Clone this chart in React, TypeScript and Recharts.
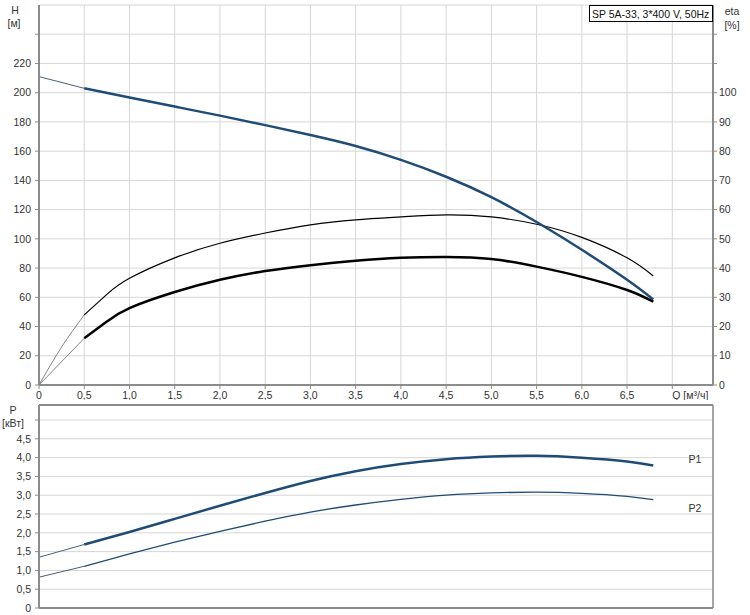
import React from 'react';
import { LineChart, Line, XAxis, YAxis, CartesianGrid, ReferenceLine } from 'recharts';

// Flow rate Q [m³/h]
const qMain = [0.5, 1.0, 1.5, 2.0, 2.5, 3.0, 3.5, 4.0, 4.5, 5.0, 5.5, 6.0, 6.5, 6.79];
const qEta = [0.5, 0.75, 1.0, 1.5, 2.0, 2.5, 3.0, 3.5, 4.0, 4.5, 5.0, 5.5, 6.0, 6.5, 6.79];
// Head H [m]
const headMain = [203, 196.7, 190.5, 184.3, 177.8, 171, 163.5, 154, 142.5, 128.5, 111.5, 92.5, 72, 58.5];
// Efficiencies [%]
const etaPump = [24, 31, 36.5, 43.5, 48.5, 52, 54.8, 56.5, 57.5, 58.2, 57.5, 55, 50.5, 43.5, 37.3];
const etaTotal = [16, 21.7, 26.3, 31.8, 36, 39, 41, 42.5, 43.5, 43.8, 43.1, 40.5, 37, 32.5, 28.5];
// Power [kW]
const p1Main = [1.69, 2.02, 2.37, 2.72, 3.06, 3.38, 3.64, 3.83, 3.96, 4.03, 4.05, 4.0, 3.9, 3.79];
const p2Main = [1.11, 1.44, 1.75, 2.04, 2.31, 2.55, 2.74, 2.89, 3.0, 3.06, 3.08, 3.05, 2.97, 2.88];

// Extensions toward Q = 0
const qStart = [0, 0.5];
const qStart3 = [0, 0.25, 0.5];
const headStart = [211, 203];
const etaPumpStart = [0, 13, 24];
const etaTotalStart = [0, 16];
const p1Start = [1.35, 1.69];
const p2Start = [0.82, 1.11];

const xTicks = [0, 0.5, 1, 1.5, 2, 2.5, 3, 3.5, 4, 4.5, 5, 5.5, 6, 6.5, 7];
const hTicks = [0, 20, 40, 60, 80, 100, 120, 140, 160, 180, 200, 220, 240];
const etaTicks = [0, 10, 20, 30, 40, 50, 60, 70, 80, 90, 100, 110, 120];
const pTicks = [0, 0.5, 1, 1.5, 2, 2.5, 3, 3.5, 4, 4.5, 5];

const pts = (qs: number[], vs: number[]) => qs.map((q, i) => ({ q, v: vs[i] }));

const FONT = '"Liberation Sans", Arial, sans-serif';
const TXT = '#333333';
const AXIS = '#8c8c8c';
const GRID = '#d6d6d6';
const BLUE = '#1f4c76';
const FS = 10.5;

const comma = (v: number) => (v === 0 ? '0' : v.toFixed(1).replace('.', ','));

const XTick = (props: any) => {
  const { x, y, payload } = props;
  const v = payload.value;
  const last = v === 7;
  return (
    <text
      x={x}
      y={y}
      dy={8}
      textAnchor={last ? 'start' : 'middle'}
      fill={TXT}
      fontSize={FS}
      fontFamily={FONT}
    >
      {last ? 'Q [м³/ч]' : comma(v)}
    </text>
  );
};

const tickStyle = { fill: TXT, fontSize: FS, fontFamily: FONT };

export default function App() {
  return (
    <div style={{ position: 'absolute', left: 0, top: 0, width: 750, height: 615, background: '#fff' }}>
      <LineChart width={750} height={400} margin={{ top: 5, right: 0, bottom: 0, left: 0 }}>
        <CartesianGrid stroke={GRID} yAxisId="h" />
        <XAxis
          type="number"
          dataKey="q"
          domain={[0, 7.45]}
          ticks={xTicks}
          height={15}
          interval={0}
          tick={<XTick />}
          tickSize={4}
          tickLine={{ stroke: AXIS }}
          axisLine={{ stroke: AXIS, strokeWidth: 2 }}
          allowDataOverflow
        />
        <YAxis
          yAxisId="h"
          type="number"
          domain={[0, 260]}
          ticks={hTicks}
          interval={0}
          width={39}
          tickSize={4}
          tickMargin={4}
          tick={tickStyle}
          tickFormatter={(v: number) => (v > 220 ? '' : String(v))}
          tickLine={{ stroke: AXIS }}
          axisLine={{ stroke: AXIS, strokeWidth: 2 }}
          allowDataOverflow
        />
        <YAxis
          yAxisId="eta"
          orientation="right"
          type="number"
          domain={[0, 130]}
          ticks={etaTicks}
          interval={0}
          width={37}
          tickSize={4}
          tickMargin={2}
          tick={{ ...tickStyle, textAnchor: 'start' }}
          tickFormatter={(v: number) => (v > 100 ? '' : String(v))}
          tickLine={{ stroke: AXIS }}
          axisLine={{ stroke: AXIS, strokeWidth: 2 }}
          allowDataOverflow
        />
        <Line yAxisId="h" data={pts(qStart, headStart)} dataKey="v" type="linear" stroke="#4a6079" strokeWidth={1} dot={false} isAnimationActive={false} />
        <Line yAxisId="eta" data={pts(qStart3, etaPumpStart)} dataKey="v" type="natural" stroke="#666" strokeWidth={0.8} dot={false} isAnimationActive={false} />
        <Line yAxisId="eta" data={pts(qStart, etaTotalStart)} dataKey="v" type="linear" stroke="#666" strokeWidth={0.8} dot={false} isAnimationActive={false} />
        <Line yAxisId="eta" data={pts(qEta, etaPump)} dataKey="v" type="natural" stroke="#000" strokeWidth={1.2} dot={false} isAnimationActive={false} />
        <Line yAxisId="eta" data={pts(qEta, etaTotal)} dataKey="v" type="natural" stroke="#000" strokeWidth={2.5} dot={false} isAnimationActive={false} />
        <Line yAxisId="h" data={pts(qMain, headMain)} dataKey="v" type="natural" stroke={BLUE} strokeWidth={2.5} dot={false} isAnimationActive={false} />
      </LineChart>
      <LineChart width={750} height={215} margin={{ top: 5, right: 0, bottom: 0, left: 0 }}>
        <CartesianGrid stroke={GRID} yAxisId="p" />
        <XAxis
          type="number"
          dataKey="q"
          domain={[0, 7.45]}
          ticks={xTicks}
          interval={0}
          height={7}
          tick={false}
          tickLine={false}
          axisLine={{ stroke: AXIS, strokeWidth: 2 }}
          allowDataOverflow
        />
        <YAxis
          yAxisId="p"
          type="number"
          domain={[0, 5.4]}
          ticks={pTicks}
          interval={0}
          width={39}
          tickSize={4}
          tickMargin={4}
          tick={tickStyle}
          tickFormatter={(v: number) => (v > 4.5 ? '' : comma(v))}
          tickLine={{ stroke: AXIS }}
          axisLine={{ stroke: AXIS, strokeWidth: 2 }}
          allowDataOverflow
        />
        <YAxis
          yAxisId="pr"
          orientation="right"
          type="number"
          domain={[0, 5.4]}
          width={37}
          tick={false}
          tickLine={false}
          axisLine={{ stroke: AXIS, strokeWidth: 1.5 }}
        />
        <ReferenceLine yAxisId="p" y={5.4} stroke={AXIS} strokeWidth={2} ifOverflow="visible" />
        <Line yAxisId="p" data={pts(qStart, p1Start)} dataKey="v" type="linear" stroke="#4a6079" strokeWidth={1} dot={false} isAnimationActive={false} />
        <Line yAxisId="p" data={pts(qStart, p2Start)} dataKey="v" type="linear" stroke="#4a6079" strokeWidth={1} dot={false} isAnimationActive={false} />
        <Line yAxisId="p" data={pts(qMain, p1Main)} dataKey="v" type="natural" stroke={BLUE} strokeWidth={2.5} dot={false} isAnimationActive={false} />
        <Line yAxisId="p" data={pts(qMain, p2Main)} dataKey="v" type="natural" stroke={BLUE} strokeWidth={1.3} dot={false} isAnimationActive={false} />
      </LineChart>
      <svg width={750} height={615} style={{ position: 'absolute', left: 0, top: 0, pointerEvents: 'none' }}>
        <g fontFamily={FONT} fontSize={FS} fill={TXT}>
          <text x={15} y={10} textAnchor="middle" dominantBaseline="central">H</text>
          <text x={14} y={23} textAnchor="middle" dominantBaseline="central">[м]</text>
          <text x={732} y={11} textAnchor="middle" dominantBaseline="central">eta</text>
          <text x={732} y={25} textAnchor="middle" dominantBaseline="central">[%]</text>
          <text x={13} y={410} textAnchor="middle" dominantBaseline="central">P</text>
          <text x={13} y={423} textAnchor="middle" dominantBaseline="central">[кВт]</text>
          <text x={695} y={459} textAnchor="middle" dominantBaseline="central">P1</text>
          <text x={695} y={508} textAnchor="middle" dominantBaseline="central">P2</text>
        </g>
        <rect x={589.5} y={5.5} width={123} height={16} fill="#fff" stroke="#000" strokeWidth={1} />
        <text x={592} y={13.5} fontFamily={FONT} fontSize={FS} fill="#111" dominantBaseline="central">SP 5A-33, 3*400 V, 50Hz</text>
      </svg>
    </div>
  );
}
